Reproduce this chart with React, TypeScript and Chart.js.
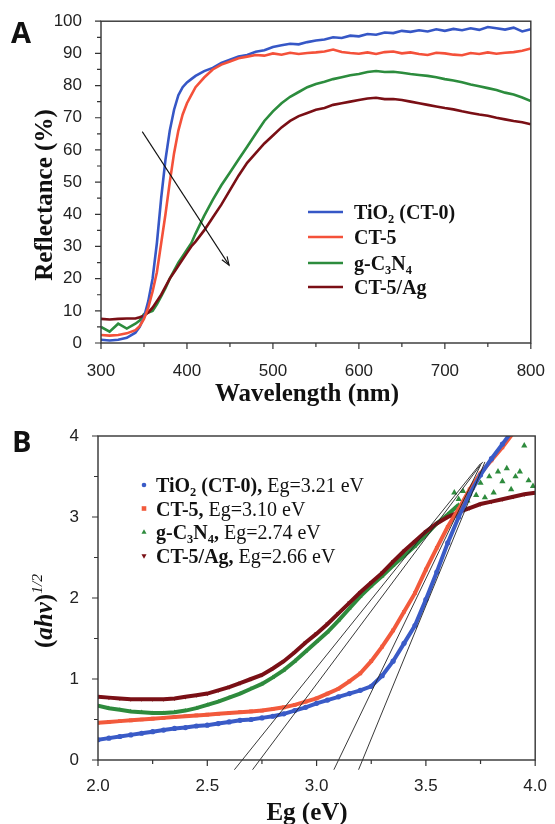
import React, { useEffect, useRef } from "react";
import { Chart, registerables } from "chart.js";
Chart.register(...registerables);

const SERIF = '"Liberation Serif", "Times New Roman", serif';
const SANS = '"Liberation Sans", Arial, sans-serif';

// ---------- Panel A: reflectance spectra ----------
const wavelengths = [300, 310, 320, 330, 340, 345, 350, 355, 360, 365, 370, 375, 380, 385, 390, 395, 400, 405, 410, 420, 430, 440, 450, 460, 470, 480, 490, 500, 510, 520, 530, 540, 550, 560, 570, 580, 590, 600, 610, 620, 630, 640, 650, 660, 670, 680, 690, 700, 710, 720, 730, 740, 750, 760, 770, 780, 790, 800];
const reflTiO2 = [1.0, 0.8, 1.0, 1.6, 3.2, 5.0, 8.0, 13, 20, 31, 45, 57, 66, 72.5, 77, 79.5, 81, 82, 83, 84.5, 85.5, 87, 88, 89, 89.5, 90.5, 91, 92, 92.5, 93, 92.8, 93.5, 94, 94.3, 95, 94.8, 95.5, 95.3, 96, 95.8, 96.5, 96.3, 97, 96.7, 97.2, 96.8, 97.5, 97, 97.6, 97.2, 97.8, 97.3, 98.2, 97.8, 97.4, 98, 96.8, 97.5];
const reflCT5 = [2.5, 2.3, 2.5, 3.0, 4.0, 5.2, 7.5, 11, 16, 22, 31, 40, 50, 59, 66, 71, 74.5, 77, 79.5, 82.5, 85, 86.5, 87.5, 88.5, 89, 89.5, 89.3, 90, 89.6, 90.2, 89.8, 90.1, 90.3, 90.6, 91.2, 90.4, 90.1, 89.9, 90.3, 89.8, 90.4, 90.6, 90.0, 90.3, 89.8, 89.5, 90.2, 90, 89.6, 89.4, 90.1, 89.8, 90.3, 89.9, 90.2, 90.4, 90.8, 91.5];
const reflCN = [5, 3.5, 6, 4.5, 6, 7, 9, 9.5, 10, 12, 14.5, 17, 20, 22.5, 25, 27, 29, 31, 34, 39.5, 44.5, 49, 53, 57, 61, 65, 69, 72, 74.5, 76.5, 78, 79.5, 80.5, 81.2, 82, 82.6, 83.2, 83.6, 84.2, 84.5, 84.2, 84.3, 84, 83.6, 83.3, 83, 82.6, 82, 81.6, 81, 80.3, 79.8, 79.2, 78.6, 77.8, 77.2, 76.3, 75.2];
const reflCTAg = [7.5, 7.3, 7.5, 7.6, 7.6, 8, 8.5, 9.5, 11, 13, 15, 17.5, 20, 22, 24, 26, 28, 30, 31.5, 35, 39, 43, 47.5, 52, 56, 59, 62, 64.5, 67, 69, 70.5, 71.5, 72.5, 73, 74, 74.5, 75, 75.5, 76, 76.2, 75.8, 75.8, 75.5, 75, 74.5, 74, 73.5, 73, 72.6, 72, 71.5, 71, 70.6, 70, 69.5, 69, 68.6, 68];
const xTicksA = [300, 400, 500, 600, 700, 800];
const xMinorA = [350, 450, 550, 650, 750];
const yTicksA = [0, 10, 20, 30, 40, 50, 60, 70, 80, 90, 100];
const yMinorA = [5, 15, 25, 35, 45, 55, 65, 75, 85, 95];
const arrowFrom = [348, 65.7];
const arrowTo = [449, 24.2];

// ---------- Panel B: Tauc plot ----------
const egGrid = [2.00, 2.05, 2.10, 2.15, 2.20, 2.25, 2.30, 2.35, 2.40, 2.45, 2.50, 2.55, 2.60, 2.65, 2.70, 2.75, 2.80, 2.85, 2.90, 2.95, 3.00, 3.05, 3.10, 3.15, 3.20, 3.25, 3.30, 3.35, 3.40, 3.45, 3.50, 3.55, 3.60, 3.65, 3.70, 3.75, 3.80, 3.85, 3.90, 3.95, 4.00];
const taucTiO2 = [0.25, 0.27, 0.29, 0.31, 0.33, 0.35, 0.37, 0.39, 0.40, 0.42, 0.43, 0.45, 0.47, 0.49, 0.50, 0.52, 0.54, 0.57, 0.61, 0.65, 0.70, 0.74, 0.78, 0.82, 0.86, 0.91, 1.04, 1.22, 1.44, 1.66, 1.98, 2.32, 2.68, 3.00, 3.28, 3.52, 3.72, 3.90, 4.08, null, null];
const taucCT5 = [0.46, 0.47, 0.48, 0.49, 0.50, 0.51, 0.52, 0.53, 0.54, 0.55, 0.56, 0.57, 0.58, 0.59, 0.60, 0.61, 0.63, 0.65, 0.68, 0.72, 0.76, 0.82, 0.88, 0.97, 1.07, 1.22, 1.40, 1.60, 1.83, 2.06, 2.35, 2.62, 2.88, 3.10, 3.34, 3.54, 3.70, 3.86, 4.04, null, null];
const taucCN = [0.67, 0.64, 0.62, 0.60, 0.59, 0.58, 0.58, 0.59, 0.61, 0.64, 0.68, 0.72, 0.77, 0.82, 0.88, 0.94, 1.02, 1.11, 1.22, 1.34, 1.46, 1.58, 1.72, 1.87, 2.02, 2.15, 2.27, 2.40, 2.52, 2.64, 2.78, 2.92, 3.03, 3.15, null, null, null, null, null, null, null];
const taucCNScatterX = [3.63, 3.65, 3.67, 3.69, 3.71, 3.73, 3.75, 3.77, 3.79, 3.81, 3.83, 3.85, 3.87, 3.89, 3.91, 3.93, 3.95, 3.97, 3.99];
const taucCNScatterY = [3.30, 3.22, 3.32, 3.20, 3.36, 3.27, 3.42, 3.24, 3.50, 3.30, 3.56, 3.44, 3.60, 3.34, 3.50, 3.56, 3.88, 3.45, 3.38];
const taucCTAg = [0.78, 0.77, 0.76, 0.75, 0.75, 0.75, 0.75, 0.76, 0.78, 0.80, 0.82, 0.86, 0.90, 0.95, 1.00, 1.05, 1.13, 1.22, 1.33, 1.45, 1.56, 1.68, 1.81, 1.94, 2.07, 2.19, 2.31, 2.45, 2.58, 2.70, 2.82, 2.92, 3.00, 3.06, 3.11, 3.16, 3.19, 3.22, 3.25, 3.28, 3.30];
const tangentBottomX = [2.624, 2.707, 3.079, 3.192];
const tangentBottomY = [-0.12, -0.12, -0.12, -0.12];
const tangentTopX = [3.75, 3.76, 3.75, 3.77];
const tangentTopY = [3.66, 3.68, 3.64, 3.68];
const xTicksB = [2.0, 2.5, 3.0, 3.5, 4.0];
const xMinorB = [2.25, 2.75, 3.25, 3.75];
const yTicksB = [0, 1, 2, 3, 4];
const yMinorB = [0.5, 1.5, 2.5, 3.5];
const bandGaps = ["3.21", "3.10", "2.74", "2.66"];

const COL_A = ["#3657c6", "#f4513a", "#2c8c3d", "#7a0f15"];
const COL_B = ["#3a5bc7", "#f25a3c", "#2e8b3d", "#7a1016"];

type Seg = { t: string; w?: string; i?: boolean; sub?: boolean; sup?: boolean };

function richWidth(ctx: any, segs: Seg[], size: number) {
  let w = 0;
  for (const s of segs) {
    const fs = s.sub || s.sup ? size * 0.62 : size;
    ctx.font = `${s.i ? "italic " : ""}${s.w || "bold"} ${fs}px ${SERIF}`;
    w += ctx.measureText(s.t).width;
  }
  return w;
}
function drawRich(ctx: any, segs: Seg[], x: number, y: number, size: number) {
  let cx = x;
  for (const s of segs) {
    const fs = s.sub || s.sup ? size * 0.62 : size;
    ctx.font = `${s.i ? "italic " : ""}${s.w || "bold"} ${fs}px ${SERIF}`;
    const dy = s.sub ? size * 0.2 : s.sup ? -size * 0.4 : 0;
    ctx.fillText(s.t, cx, y + dy);
    cx += ctx.measureText(s.t).width;
  }
}

function drawFrameTicks(chart: any, xMaj: number[], xMin: number[], yMaj: number[], yMin: number[]) {
  const { ctx, chartArea: a, scales } = chart;
  ctx.save();
  ctx.strokeStyle = "#333";
  ctx.lineWidth = 1.4;
  ctx.strokeRect(a.left, a.top, a.right - a.left, a.bottom - a.top);
  ctx.lineWidth = 1.2;
  ctx.beginPath();
  const tick = (vals: number[], len: number, isX: boolean) => {
    for (const v of vals) {
      if (isX) {
        const px = scales.x.getPixelForValue(v);
        ctx.moveTo(px, a.bottom);
        ctx.lineTo(px, a.bottom + len);
      } else {
        const py = scales.y.getPixelForValue(v);
        ctx.moveTo(a.left, py);
        ctx.lineTo(a.left - len, py);
      }
    }
  };
  tick(xMaj, 6, true);
  tick(xMin, 4, true);
  tick(yMaj, 6, false);
  tick(yMin, 4, false);
  ctx.stroke();
  ctx.restore();
}

const legendA: Seg[][] = [
  [{ t: "TiO" }, { t: "2", sub: true }, { t: " (CT-0)" }],
  [{ t: "CT-5" }],
  [{ t: "g-C" }, { t: "3", sub: true }, { t: "N" }, { t: "4", sub: true }],
  [{ t: "CT-5/Ag" }],
];
const legendB: Seg[][] = [
  [{ t: "TiO" }, { t: "2", sub: true }, { t: " (CT-0)," }, { t: " Eg=" + bandGaps[0] + " eV", w: "normal" }],
  [{ t: "CT-5," }, { t: " Eg=" + bandGaps[1] + " eV", w: "normal" }],
  [{ t: "g-C" }, { t: "3", sub: true }, { t: "N" }, { t: "4", sub: true }, { t: "," }, { t: " Eg=" + bandGaps[2] + " eV", w: "normal" }],
  [{ t: "CT-5/Ag," }, { t: " Eg=" + bandGaps[3] + " eV", w: "normal" }],
];

const decorA = {
  id: "decorA",
  afterDraw(chart: any) {
    const { ctx, scales } = chart;
    drawFrameTicks(chart, xTicksA, xMinorA, yTicksA, yMinorA);
    ctx.save();
    ctx.fillStyle = "#111";
    ctx.textBaseline = "alphabetic";
    const xt: Seg[] = [{ t: "Wavelength (nm)" }];
    const w = richWidth(ctx, xt, 25);
    drawRich(ctx, xt, 307 - w / 2, 401, 25);
    ctx.save();
    ctx.translate(52, 195);
    ctx.rotate(-Math.PI / 2);
    const yt: Seg[] = [{ t: "Reflectance (%)" }];
    const wy = richWidth(ctx, yt, 25);
    drawRich(ctx, yt, -wy / 2, 0, 25);
    ctx.restore();
    ctx.font = `bold 29px "Open Sans", ${SANS}`;
    ctx.fillText("A", 11, 43);
    for (let i = 0; i < 4; i++) {
      const yy = [212, 237, 263, 287][i];
      ctx.strokeStyle = COL_A[i];
      ctx.lineWidth = 2.5;
      ctx.beginPath();
      ctx.moveTo(308, yy);
      ctx.lineTo(343, yy);
      ctx.stroke();
      ctx.fillStyle = "#111";
      drawRich(ctx, legendA[i], 354, yy + 7, 20);
    }
    const x1 = scales.x.getPixelForValue(arrowFrom[0]);
    const y1 = scales.y.getPixelForValue(arrowFrom[1]);
    const x2 = scales.x.getPixelForValue(arrowTo[0]);
    const y2 = scales.y.getPixelForValue(arrowTo[1]);
    ctx.strokeStyle = "#111";
    ctx.lineWidth = 1.1;
    ctx.beginPath();
    ctx.moveTo(x1, y1);
    ctx.lineTo(x2, y2);
    ctx.stroke();
    const ang = Math.atan2(y2 - y1, x2 - x1);
    ctx.beginPath();
    ctx.moveTo(x2 - 9 * Math.cos(ang - 0.35), y2 - 9 * Math.sin(ang - 0.35));
    ctx.lineTo(x2, y2);
    ctx.lineTo(x2 - 9 * Math.cos(ang + 0.35), y2 - 9 * Math.sin(ang + 0.35));
    ctx.stroke();
    ctx.restore();
  },
};

function drawMarker(ctx: any, kind: number, x: number, y: number, r: number) {
  ctx.beginPath();
  if (kind === 0) ctx.arc(x, y, r, 0, Math.PI * 2);
  else if (kind === 1) ctx.rect(x - r, y - r, 2 * r, 2 * r);
  else if (kind === 2) {
    ctx.moveTo(x, y - r * 1.2);
    ctx.lineTo(x + r * 1.1, y + r * 0.8);
    ctx.lineTo(x - r * 1.1, y + r * 0.8);
    ctx.closePath();
  } else {
    ctx.moveTo(x, y + r * 1.2);
    ctx.lineTo(x + r * 1.1, y - r * 0.8);
    ctx.lineTo(x - r * 1.1, y - r * 0.8);
    ctx.closePath();
  }
  ctx.fill();
}

const decorB = {
  id: "decorB",
  afterDraw(chart: any) {
    const { ctx } = chart;
    drawFrameTicks(chart, xTicksB, xMinorB, yTicksB, yMinorB);
    ctx.save();
    ctx.fillStyle = "#111";
    ctx.textBaseline = "alphabetic";
    const xt: Seg[] = [{ t: "Eg (eV)" }];
    const w = richWidth(ctx, xt, 25);
    drawRich(ctx, xt, 307 - w / 2, 408, 25);
    ctx.save();
    ctx.translate(52, 199);
    ctx.rotate(-Math.PI / 2);
    const yt: Seg[] = [{ t: "(" }, { t: "ahv", i: true }, { t: ")" }, { t: "1/2", sup: true, i: true, w: "normal" }];
    const wy = richWidth(ctx, yt, 25);
    drawRich(ctx, yt, -wy / 2, 0, 25);
    ctx.restore();
    ctx.font = `bold 29px "Open Sans", ${SANS}`;
    ctx.fillText("B", 12, 40);
    for (let i = 0; i < 4; i++) {
      const yy = [73, 96.5, 120, 144][i];
      ctx.fillStyle = COL_B[i];
      drawMarker(ctx, i, 144, yy, 2.3);
      ctx.fillStyle = "#111";
      drawRich(ctx, legendB[i], 156, yy + 7, 20);
    }
    ctx.restore();
  },
};

const tickFont = { family: SANS, size: 17 };

function makeA(canvas: HTMLCanvasElement) {
  const names = ["TiO2 (CT-0)", "CT-5", "g-C3N4", "CT-5/Ag"];
  const vals = [reflTiO2, reflCT5, reflCN, reflCTAg];
  return new Chart(canvas, {
    type: "line",
    data: {
      datasets: vals.map((v, i) => ({
        label: names[i],
        data: wavelengths.map((x, j) => ({ x, y: v[j] })),
        borderColor: COL_A[i],
        borderWidth: 2.6,
        pointRadius: 0,
        tension: 0,
        order: [2, 1, 4, 3][i],
      })),
    },
    options: {
      responsive: false,
      animation: false,
      events: [],
      layout: { padding: { top: 21, right: 16, left: 0, bottom: 0 } },
      plugins: { legend: { display: false }, tooltip: { enabled: false } },
      scales: {
        x: {
          type: "linear",
          min: 300,
          max: 800,
          grid: { display: false },
          border: { display: false },
          ticks: { stepSize: 100, font: tickFont, color: "#222", padding: 10, maxRotation: 0, autoSkip: false },
          afterFit: (s: any) => { s.height = 69; },
        },
        y: {
          min: 0,
          max: 100,
          grid: { display: false },
          border: { display: false },
          ticks: { stepSize: 10, font: tickFont, color: "#222", padding: 11, autoSkip: false },
          afterFit: (s: any) => { s.width = 101; },
        },
      },
    },
    plugins: [decorA],
  } as any);
}

function makeB(canvas: HTMLCanvasElement) {
  const names = ["TiO2 (CT-0)", "CT-5", "g-C3N4", "CT-5/Ag"];
  const vals = [taucTiO2, taucCT5, taucCN, taucCTAg];
  const styles = ["circle", "rect", "triangle", "triangle"];
  const datasets: any[] = vals.map((v, i) => ({
    label: names[i],
    data: egGrid.map((x, j) => ({ x, y: v[j] })),
    borderColor: COL_B[i],
    backgroundColor: COL_B[i],
    borderWidth: 4,
    pointRadius: 2.6,
    pointStyle: styles[i],
    pointRotation: i === 3 ? 180 : 0,
    pointBorderWidth: 0,
    tension: 0,
    spanGaps: false,
    order: [2, 3, 5, 4][i],
  }));
  datasets.push({
    label: "g-C3N4 scatter",
    data: taucCNScatterX.map((x, j) => ({ x, y: taucCNScatterY[j] })),
    showLine: false,
    backgroundColor: COL_B[2],
    borderColor: COL_B[2],
    pointRadius: 3.6,
    pointStyle: "triangle",
    pointBorderWidth: 0,
    order: 5,
  });
  for (let k = 0; k < 4; k++) {
    datasets.push({
      label: "tangent " + k,
      data: [
        { x: tangentBottomX[k], y: tangentBottomY[k] },
        { x: tangentTopX[k], y: tangentTopY[k] },
      ],
      borderColor: "#222",
      borderWidth: 0.9,
      pointRadius: 0,
      clip: false,
      order: 0,
    });
  }
  return new Chart(canvas, {
    type: "line",
    data: { datasets },
    options: {
      responsive: false,
      animation: false,
      events: [],
      layout: { padding: { top: 24, right: 17, left: 0, bottom: 0 } },
      plugins: { legend: { display: false }, tooltip: { enabled: false } },
      scales: {
        x: {
          type: "linear",
          min: 2,
          max: 4,
          grid: { display: false },
          border: { display: false },
          ticks: { stepSize: 0.5, font: tickFont, color: "#222", padding: 8, maxRotation: 0, autoSkip: false, callback: (v: any) => Number(v).toFixed(1) },
          afterFit: (s: any) => { s.height = 64; },
        },
        y: {
          min: 0,
          max: 4,
          grid: { display: false },
          border: { display: false },
          ticks: { stepSize: 1, font: tickFont, color: "#222", padding: 11, autoSkip: false },
          afterFit: (s: any) => { s.width = 98; },
        },
      },
    },
    plugins: [decorB],
  } as any);
}

export default function App() {
  const refA = useRef<HTMLCanvasElement>(null);
  const refB = useRef<HTMLCanvasElement>(null);
  useEffect(() => {
    const a = makeA(refA.current!);
    const b = makeB(refB.current!);
    return () => {
      a.destroy();
      b.destroy();
    };
  }, []);
  return (
    <div style={{ position: "absolute", left: 0, top: 0, width: 555, height: 824, background: "#fff" }}>
      <canvas ref={refA} width={555} height={412} style={{ position: "absolute", left: 0, top: 0, width: 555, height: 412 }} />
      <canvas ref={refB} width={555} height={412} style={{ position: "absolute", left: 0, top: 412, width: 555, height: 412 }} />
    </div>
  );
}
